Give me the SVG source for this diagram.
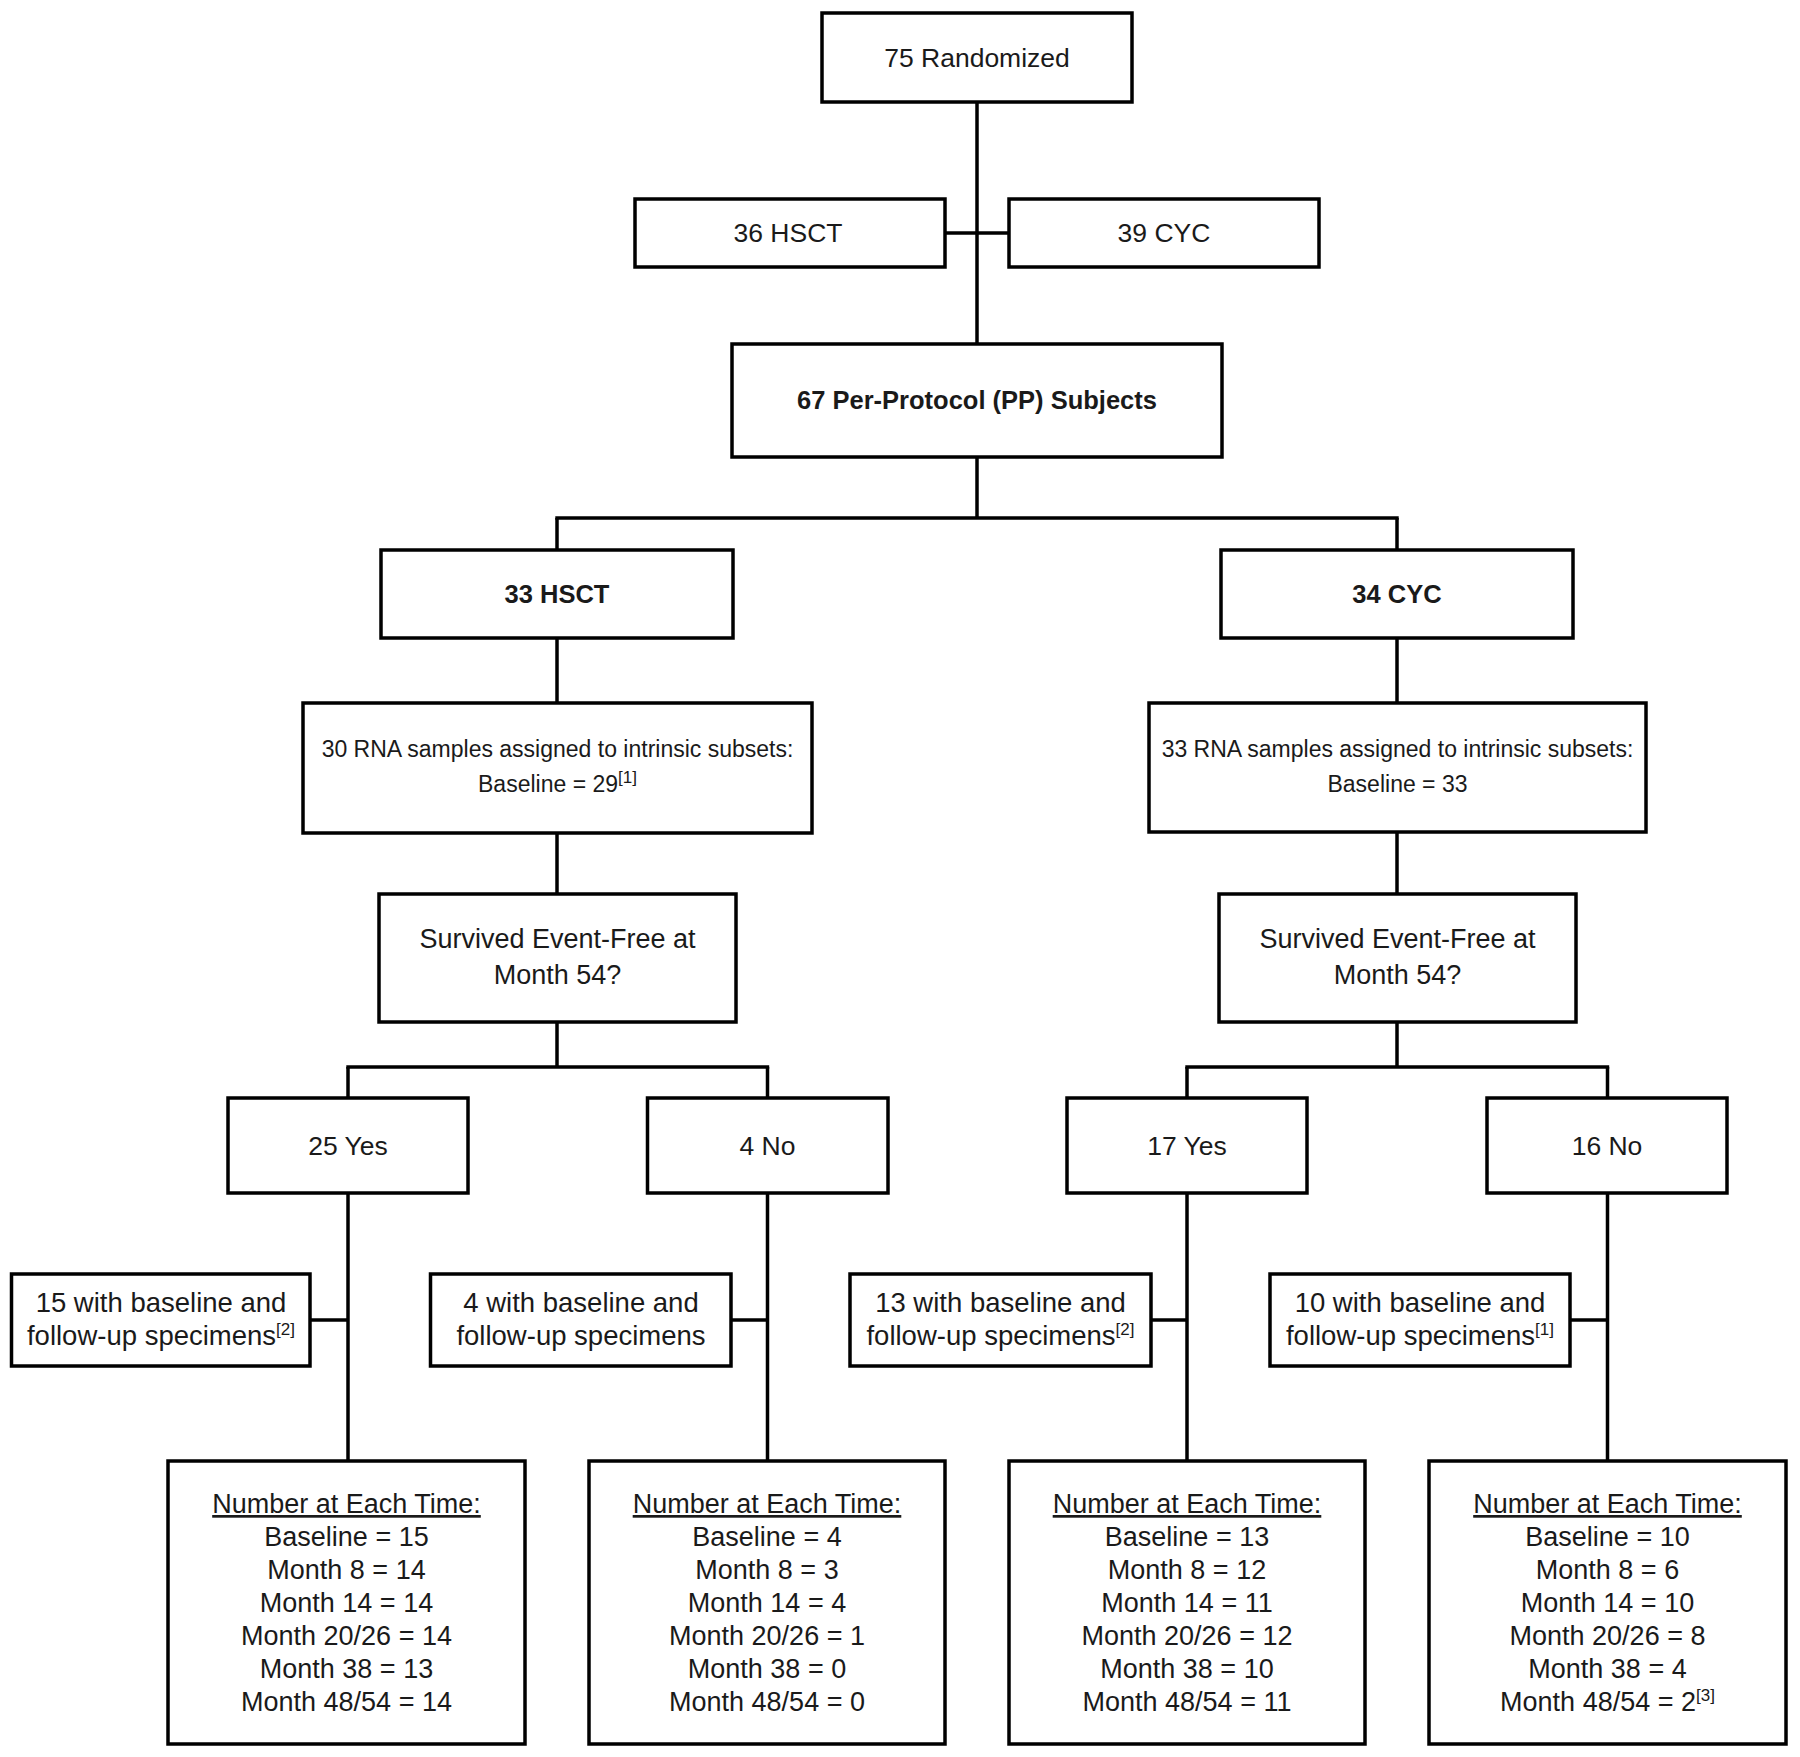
<svg xmlns="http://www.w3.org/2000/svg" width="1800" height="1757" viewBox="0 0 1800 1757">
<style>
.box{fill:#fff;stroke:#000;stroke-width:3.5}
.conn line{stroke:#000;stroke-width:3.5}
text{font-family:"Liberation Sans",Arial,sans-serif;fill:#1a1a1a;text-anchor:middle}
.t{font-size:26.5px}
.b{font-size:25.5px;font-weight:bold}
.s{font-size:23px}
.q{font-size:27px}
.w{font-size:27.5px}
.n{font-size:27px}
.u{text-decoration:underline}
.sup{font-size:17px}
</style>
<rect width="1800" height="1757" fill="#fff"/>
<g class="conn" id="connectors">
<line x1="977" y1="102" x2="977" y2="344"/>
<line x1="945" y1="233" x2="1009" y2="233"/>
<line x1="977" y1="457" x2="977" y2="518"/>
<line x1="555.3" y1="518" x2="1398.7" y2="518"/>
<line x1="557" y1="518" x2="557" y2="550"/>
<line x1="1397" y1="518" x2="1397" y2="550"/>
<line x1="557" y1="638" x2="557" y2="703"/>
<line x1="1397" y1="638" x2="1397" y2="703"/>
<line x1="557" y1="833" x2="557" y2="894"/>
<line x1="1397" y1="832" x2="1397" y2="894"/>
<line x1="557" y1="1022" x2="557" y2="1067"/>
<line x1="1397" y1="1022" x2="1397" y2="1067"/>
<line x1="346.3" y1="1067" x2="769.2" y2="1067"/>
<line x1="1185.3" y1="1067" x2="1609.2" y2="1067"/>
<line x1="348" y1="1067" x2="348" y2="1098"/>
<line x1="767.5" y1="1067" x2="767.5" y2="1098"/>
<line x1="1187" y1="1067" x2="1187" y2="1098"/>
<line x1="1607.5" y1="1067" x2="1607.5" y2="1098"/>
<line x1="348" y1="1193" x2="348" y2="1461"/>
<line x1="767.5" y1="1193" x2="767.5" y2="1461"/>
<line x1="1187" y1="1193" x2="1187" y2="1461"/>
<line x1="1607.5" y1="1193" x2="1607.5" y2="1461"/>
<line x1="310" y1="1320" x2="348" y2="1320"/>
<line x1="731" y1="1320" x2="767.5" y2="1320"/>
<line x1="1151" y1="1320" x2="1187" y2="1320"/>
<line x1="1570" y1="1320" x2="1607.5" y2="1320"/>
</g>
<g id="randomized"><rect class="box" x="822" y="13" width="310" height="89"/><text class="t" x="977" y="67">75 Randomized</text></g>
<g id="hsct36"><rect class="box" x="635" y="199" width="310" height="68"/><text class="t" x="788" y="242">36 HSCT</text></g>
<g id="cyc39"><rect class="box" x="1009" y="199" width="310" height="68"/><text class="t" x="1164" y="242">39 CYC</text></g>
<g id="pp"><rect class="box" x="732" y="344" width="490" height="113"/><text class="b" x="977" y="409">67 Per-Protocol (PP) Subjects</text></g>
<g id="hsct33"><rect class="box" x="381" y="550" width="352" height="88"/><text class="b" x="557" y="603">33 HSCT</text></g>
<g id="cyc34"><rect class="box" x="1221" y="550" width="352" height="88"/><text class="b" x="1397" y="603">34 CYC</text></g>
<g id="rna-hsct"><rect class="box" x="303" y="703" width="509" height="130"/><text class="s" x="557.5" y="757">30 RNA samples assigned to intrinsic subsets:</text><text class="s" x="557.5" y="792">Baseline = 29<tspan class="sup" dy="-9">[1]</tspan></text></g>
<g id="rna-cyc"><rect class="box" x="1149" y="703" width="497" height="129"/><text class="s" x="1397.5" y="757">33 RNA samples assigned to intrinsic subsets:</text><text class="s" x="1397.5" y="792">Baseline = 33</text></g>
<g id="survived-hsct"><rect class="box" x="379" y="894" width="357" height="128"/><text class="q" x="557.5" y="948">Survived Event-Free at</text><text class="q" x="557.5" y="984">Month 54?</text></g>
<g id="survived-cyc"><rect class="box" x="1219" y="894" width="357" height="128"/><text class="q" x="1397.5" y="948">Survived Event-Free at</text><text class="q" x="1397.5" y="984">Month 54?</text></g>
<g id="yes25"><rect class="box" x="228" y="1098" width="240" height="95"/><text class="t" x="348" y="1155">25 Yes</text></g>
<g id="no4"><rect class="box" x="647.5" y="1098" width="240.5" height="95"/><text class="t" x="767.5" y="1155">4 No</text></g>
<g id="yes17"><rect class="box" x="1067" y="1098" width="240" height="95"/><text class="t" x="1187" y="1155">17 Yes</text></g>
<g id="no16"><rect class="box" x="1487" y="1098" width="240" height="95"/><text class="t" x="1607" y="1155">16 No</text></g>
<g id="spec15"><rect class="box" x="11.5" y="1274" width="298.5" height="92"/><text class="w" x="161" y="1312">15 with baseline and</text><text class="w" x="161" y="1345">follow-up specimens<tspan class="sup" dy="-10">[2]</tspan></text></g>
<g id="spec4"><rect class="box" x="430.5" y="1274" width="300.5" height="92"/><text class="w" x="581" y="1312">4 with baseline and</text><text class="w" x="581" y="1345">follow-up specimens</text></g>
<g id="spec13"><rect class="box" x="850" y="1274" width="301" height="92"/><text class="w" x="1000.5" y="1312">13 with baseline and</text><text class="w" x="1000.5" y="1345">follow-up specimens<tspan class="sup" dy="-10">[2]</tspan></text></g>
<g id="spec10"><rect class="box" x="1270" y="1274" width="300" height="92"/><text class="w" x="1420" y="1312">10 with baseline and</text><text class="w" x="1420" y="1345">follow-up specimens<tspan class="sup" dy="-10">[1]</tspan></text></g>
<g id="times-hsct-yes"><rect class="box" x="168" y="1461" width="357" height="283"/>
<text class="n u" x="346.5" y="1513">Number at Each Time:</text>
<text class="n" x="346.5" y="1546">Baseline = 15</text>
<text class="n" x="346.5" y="1579">Month 8 = 14</text>
<text class="n" x="346.5" y="1612">Month 14 = 14</text>
<text class="n" x="346.5" y="1645">Month 20/26 = 14</text>
<text class="n" x="346.5" y="1678">Month 38 = 13</text>
<text class="n" x="346.5" y="1711">Month 48/54 = 14</text></g>
<g id="times-hsct-no"><rect class="box" x="589" y="1461" width="356" height="283"/>
<text class="n u" x="767" y="1513">Number at Each Time:</text>
<text class="n" x="767" y="1546">Baseline = 4</text>
<text class="n" x="767" y="1579">Month 8 = 3</text>
<text class="n" x="767" y="1612">Month 14 = 4</text>
<text class="n" x="767" y="1645">Month 20/26 = 1</text>
<text class="n" x="767" y="1678">Month 38 = 0</text>
<text class="n" x="767" y="1711">Month 48/54 = 0</text></g>
<g id="times-cyc-yes"><rect class="box" x="1009" y="1461" width="356" height="283"/>
<text class="n u" x="1187" y="1513">Number at Each Time:</text>
<text class="n" x="1187" y="1546">Baseline = 13</text>
<text class="n" x="1187" y="1579">Month 8 = 12</text>
<text class="n" x="1187" y="1612">Month 14 = 11</text>
<text class="n" x="1187" y="1645">Month 20/26 = 12</text>
<text class="n" x="1187" y="1678">Month 38 = 10</text>
<text class="n" x="1187" y="1711">Month 48/54 = 11</text></g>
<g id="times-cyc-no"><rect class="box" x="1429" y="1461" width="357" height="283"/>
<text class="n u" x="1607.5" y="1513">Number at Each Time:</text>
<text class="n" x="1607.5" y="1546">Baseline = 10</text>
<text class="n" x="1607.5" y="1579">Month 8 = 6</text>
<text class="n" x="1607.5" y="1612">Month 14 = 10</text>
<text class="n" x="1607.5" y="1645">Month 20/26 = 8</text>
<text class="n" x="1607.5" y="1678">Month 38 = 4</text>
<text class="n" x="1607.5" y="1711">Month 48/54 = 2<tspan class="sup" dy="-10">[3]</tspan></text></g>
</svg>
